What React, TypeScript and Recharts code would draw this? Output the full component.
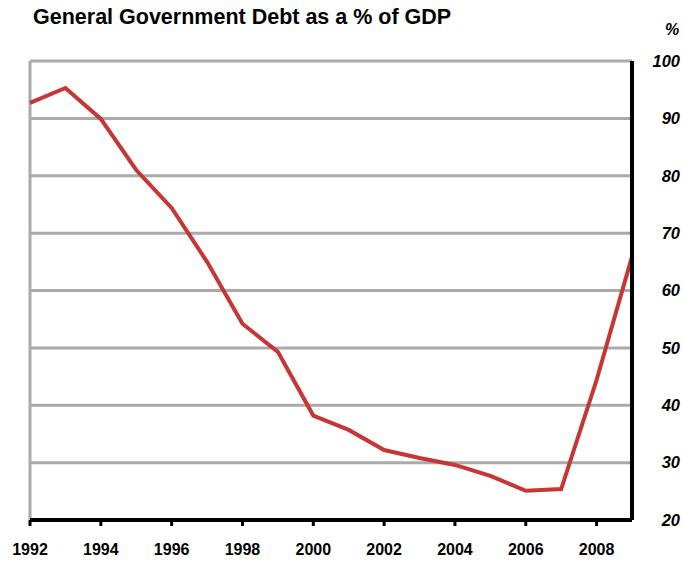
import { LineChart, Line, XAxis, YAxis, CartesianGrid, ReferenceLine } from "recharts";

const years = [
  1992, 1993, 1994, 1995, 1996, 1997, 1998, 1999, 2000,
  2001, 2002, 2003, 2004, 2005, 2006, 2007, 2008, 2009,
];
const debt = [
  92.7, 95.3, 89.9, 81.0, 74.4, 65.0, 54.2, 49.3, 38.2,
  35.7, 32.2, 30.8, 29.6, 27.7, 25.1, 25.4, 44.4, 65.9,
];
const yearTicks = [1992, 1994, 1996, 1998, 2000, 2002, 2004, 2006, 2008];
const pctTicks = [20, 30, 40, 50, 60, 70, 80, 90, 100];

const data = years.map((year, i) => ({ year, debt: debt[i] }));

const font = "'Liberation Sans', Arial, sans-serif";

export default function App() {
  return (
    <div style={{ position: "absolute", left: 0, top: 0, width: 683, height: 562, background: "#fff", fontFamily: font }}>
      <div style={{ position: "absolute", left: 33, top: 5, fontSize: 21.5, fontWeight: "bold", color: "#000", whiteSpace: "nowrap" }}>
        General Government Debt as a % of GDP
      </div>
      <div style={{ position: "absolute", left: 665, top: 21, fontSize: 16, fontWeight: "bold", fontStyle: "italic", color: "#000" }}>
        %
      </div>
      <LineChart width={683} height={562} data={data} margin={{ top: 61, right: 0, bottom: 0, left: 30 }}>
        <CartesianGrid vertical={false} stroke="#aaaaaa" strokeWidth={3} />
        <ReferenceLine x={1992} stroke="#aaaaaa" strokeWidth={3} />
        <XAxis
          dataKey="year"
          type="number"
          domain={[1992, 2009]}
          ticks={yearTicks}
          height={42}
          axisLine={{ stroke: "#000", strokeWidth: 4 }}
          tickLine={{ stroke: "#000", strokeWidth: 3 }}
          tickSize={6}
          tick={{ fill: "#000", fontSize: 16, fontWeight: "bold", fontFamily: font, dy: 16 }}
        />
        <YAxis
          orientation="right"
          domain={[20, 100]}
          ticks={pctTicks}
          width={51}
          axisLine={{ stroke: "#000", strokeWidth: 4 }}
          tickLine={false}
          tick={{ fill: "#000", fontSize: 16.5, fontWeight: "bold", fontStyle: "italic", fontFamily: font, textAnchor: "end", dx: 40 }}
        />
        <Line
          type="linear"
          dataKey="debt"
          stroke="#c83535"
          strokeWidth={4}
          dot={false}
          isAnimationActive={false}
        />
      </LineChart>
    </div>
  );
}
